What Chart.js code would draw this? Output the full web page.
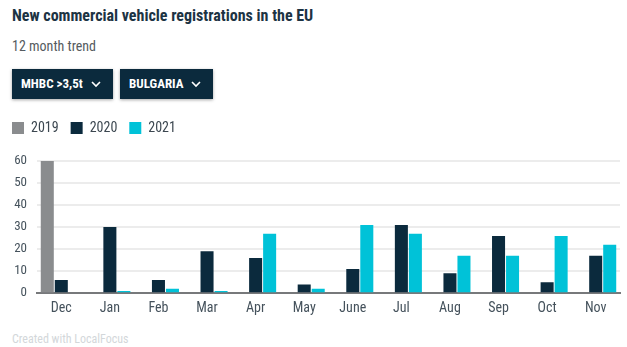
<!DOCTYPE html>
<html>
<head>
<meta charset="utf-8">
<script src="https://cdn.jsdelivr.net/npm/chart.js@4"></script>
<style>
  html, body { margin:0; padding:0; background:#fff; width:627px; height:347px; overflow:hidden; }
  body { position:relative; font-family: "Roboto Condensed", "Liberation Sans Narrow", Roboto, sans-serif; }
  .title { position:absolute; left:12px; top:6px; font-size:16px; font-weight:700; color:#1c3343; white-space:nowrap; }
  .sub { position:absolute; left:12px; top:38px; font-size:14px; color:#555b60; white-space:nowrap; }
  .btn { position:absolute; top:69px; height:30px; background:#0b2a3d; color:#fff; font-size:13px; font-weight:700;
         box-shadow:0 1px 3px rgba(0,0,0,0.35); line-height:30px; white-space:nowrap; }
  .btn span { position:absolute; left:9px; }
  .btn svg { position:absolute; top:11px; }
  .foot { position:absolute; left:12px; top:332px; font-size:12px; color:#d3d7da; white-space:nowrap; }
  #wrap { position:absolute; left:0; top:109px; width:627px; height:215px; }
</style>
</head>
<body>
<div class="title">New commercial vehicle registrations in the EU</div>
<div class="sub">12 month trend</div>
<div class="btn" style="left:12px;width:101px;"><span>MHBC &gt;3,5t</span>
  <svg style="left:79px" width="10" height="8" viewBox="0 0 10 8"><polyline points="1,2 5,6 9,2" fill="none" stroke="#fff" stroke-width="1.6"/></svg></div>
<div class="btn" style="left:120px;width:93px;"><span>BULGARIA</span>
  <svg style="left:71px" width="10" height="8" viewBox="0 0 10 8"><polyline points="1,2 5,6 9,2" fill="none" stroke="#fff" stroke-width="1.6"/></svg></div>
<div id="wrap"><canvas id="c" width="627" height="215"></canvas></div>
<div class="foot">Created with LocalFocus</div>
<script>
const months = ["Dec","Jan","Feb","Mar","Apr","May","June","Jul","Aug","Sep","Oct","Nov"];
const seriesNames = ["2019","2020","2021"];
const values2019 = [60, null, null, null, null, null, null, null, null, null, null, null];
const values2020 = [6, 30, 6, 19, 16, 4, 11, 31, 9, 26, 5, 17];
const values2021 = [null, 1, 2, 1, 27, 2, 31, 27, 17, 17, 26, 22];
const yTicks = [0, 10, 20, 30, 40, 50, 60];
const colors = ["#8a8c8e", "#0b2a3d", "#00c2d8"];

const FONT = '"Roboto Condensed", "Liberation Sans Narrow", Roboto, sans-serif';
Chart.defaults.font.family = FONT;

const legendGap = {
  id: 'legendGap',
  beforeInit(chart) {
    const origFit = chart.legend.fit;
    chart.legend.fit = function () { origFit.call(this); this.height += 16; };
  }
};

new Chart(document.getElementById('c'), {
  type: 'bar',
  data: {
    labels: months,
    datasets: [values2019, values2020, values2021].map((d, i) => ({
      label: seriesNames[i], data: d, backgroundColor: colors[i],
      categoryPercentage: 0.865, barPercentage: 0.93, borderWidth: 0
    }))
  },
  plugins: [legendGap],
  options: {
    responsive: false, animation: false,
    layout: { padding: { left: 0, right: 7, top: 0, bottom: 0 } },
    plugins: {
      tooltip: { enabled: false },
      legend: {
        position: 'top', align: 'start',
        labels: { boxWidth: 12, boxHeight: 12, padding: 12, color: '#3c4750', font: { size: 14 } }
      }
    },
    scales: {
      x: {
        grid: { display: false, drawTicks: false },
        border: { display: true, color: '#77797b', width: 2 },
        ticks: { color: '#45525c', font: { size: 14 }, padding: 7, maxRotation: 0 }
      },
      y: {
        min: 0, max: 60,
        afterBuildTicks: (ax) => { ax.ticks = yTicks.map(v => ({ value: v })); },
        afterFit: (ax) => { ax.width = 37; },
        grid: { color: '#ececec', lineWidth: 2, drawTicks: false },
        border: { display: false },
        ticks: { color: '#45525c', font: { size: 13 }, padding: 10 }
      }
    }
  }
});
</script>
</body>
</html>
